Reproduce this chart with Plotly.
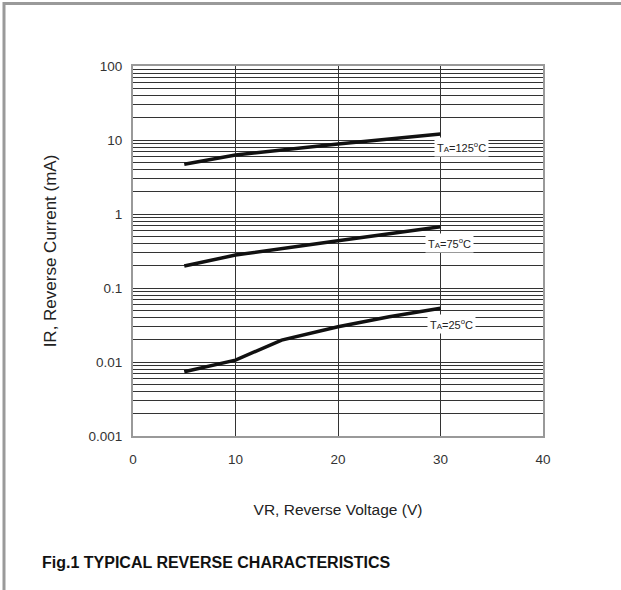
import math
import plotly.graph_objects as go

# Data
vr_125 = [5, 10, 20, 30]
ir_125 = [4.69, 6.27, 8.83, 12.05]

vr_75 = [5, 10, 20, 30]
ir_75 = [0.198, 0.279, 0.435, 0.674]

vr_25 = [5, 10, 14.5, 20, 25, 30]
ir_25 = [0.0074, 0.0106, 0.0198, 0.0300, 0.0409, 0.0532]

series = [
    (vr_125, ir_125, "T<span style='font-size:8px'>A</span>=125<sup>o</sup>C", 32.0, 8.1),
    (vr_75, ir_75, "T<span style='font-size:8px'>A</span>=75<sup>o</sup>C", 30.9, 0.406),
    (vr_25, ir_25, "T<span style='font-size:8px'>A</span>=25<sup>o</sup>C", 31.1, 0.0326),
]

y_ticks = [0.001, 0.01, 0.1, 1, 10, 100]
y_ticktext = ["0.001", "0.01", "0.1", "1", "10", "100"]
x_ticks = [0, 10, 20, 30, 40]

minor_vals = [m * d for d in [0.001, 0.01, 0.1, 1, 10] for m in range(2, 10)]

W, H = 621, 590
L, R, T, B = 133, 543, 66, 436

fig = go.Figure()
for xs, ys, name, lx, ly in series:
    fig.add_trace(go.Scatter(x=xs, y=ys, mode="lines", line=dict(color="#111", width=3.5),
                             showlegend=False, hoverinfo="skip"))
    fig.add_annotation(x=lx, y=math.log10(ly), yref="y", xref="x", text=name, showarrow=False,
                       font=dict(family="Liberation Sans, Arial", size=11, color="#222"),
                       bgcolor="white", borderpad=2)

grid_col = "#333"
fig.update_layout(
    width=W, height=H,
    margin=dict(l=L, r=W - R, t=T, b=H - B, pad=0),
    paper_bgcolor="white", plot_bgcolor="white",
    font=dict(family="Liberation Sans, Arial, sans-serif", color="#333"),
    xaxis=dict(range=[0, 40], tickvals=x_ticks, showgrid=True, gridcolor=grid_col, gridwidth=1,
               showline=True, linecolor="#999", linewidth=2, mirror=True, zeroline=False,
               ticks="", tickfont=dict(size=13.5, color="#333"), ticklabelstandoff=10,
               title=dict(text="VR, Reverse Voltage (V)", font=dict(size=15.5, color="#222"), standoff=38)),
    yaxis=dict(type="log", range=[-3, 2], tickvals=y_ticks, ticktext=y_ticktext,
               showgrid=True, gridcolor=grid_col, gridwidth=1,
               showline=True, linecolor="#999", linewidth=2, mirror=True, zeroline=False,
               ticks="", tickfont=dict(size=13.5, color="#333"), ticklabelstandoff=6,
               minor=dict(tickvals=minor_vals, showgrid=True, gridcolor=grid_col, gridwidth=1, ticks=""),
               title=dict(text="IR, Reverse Current (mA)", font=dict(size=17, color="#222"), standoff=28)),
)

def px_x(p):
    return (p - L) / (R - L)

def px_y(p):
    return (B - p) / (B - T)

# outer frame (top and left)
fig.add_shape(type="line", xref="paper", yref="paper", x0=px_x(4), x1=px_x(621), y0=px_y(3.5), y1=px_y(3.5),
              line=dict(color="#9a9a9a", width=3))
fig.add_shape(type="line", xref="paper", yref="paper", x0=px_x(4), x1=px_x(4), y0=px_y(2), y1=px_y(590),
              line=dict(color="#9a9a9a", width=3))

fig.add_annotation(xref="paper", yref="paper", x=px_x(40), y=px_y(562), xanchor="left", yanchor="middle",
                   text="<b>Fig.1 TYPICAL REVERSE CHARACTERISTICS</b>", showarrow=False,
                   font=dict(family="Liberation Sans, Arial", size=16, color="#111"))

fig.write_html("out.html", config={"displayModeBar": False},
               post_script="document.body.style.margin='0';document.body.style.padding='0';")
